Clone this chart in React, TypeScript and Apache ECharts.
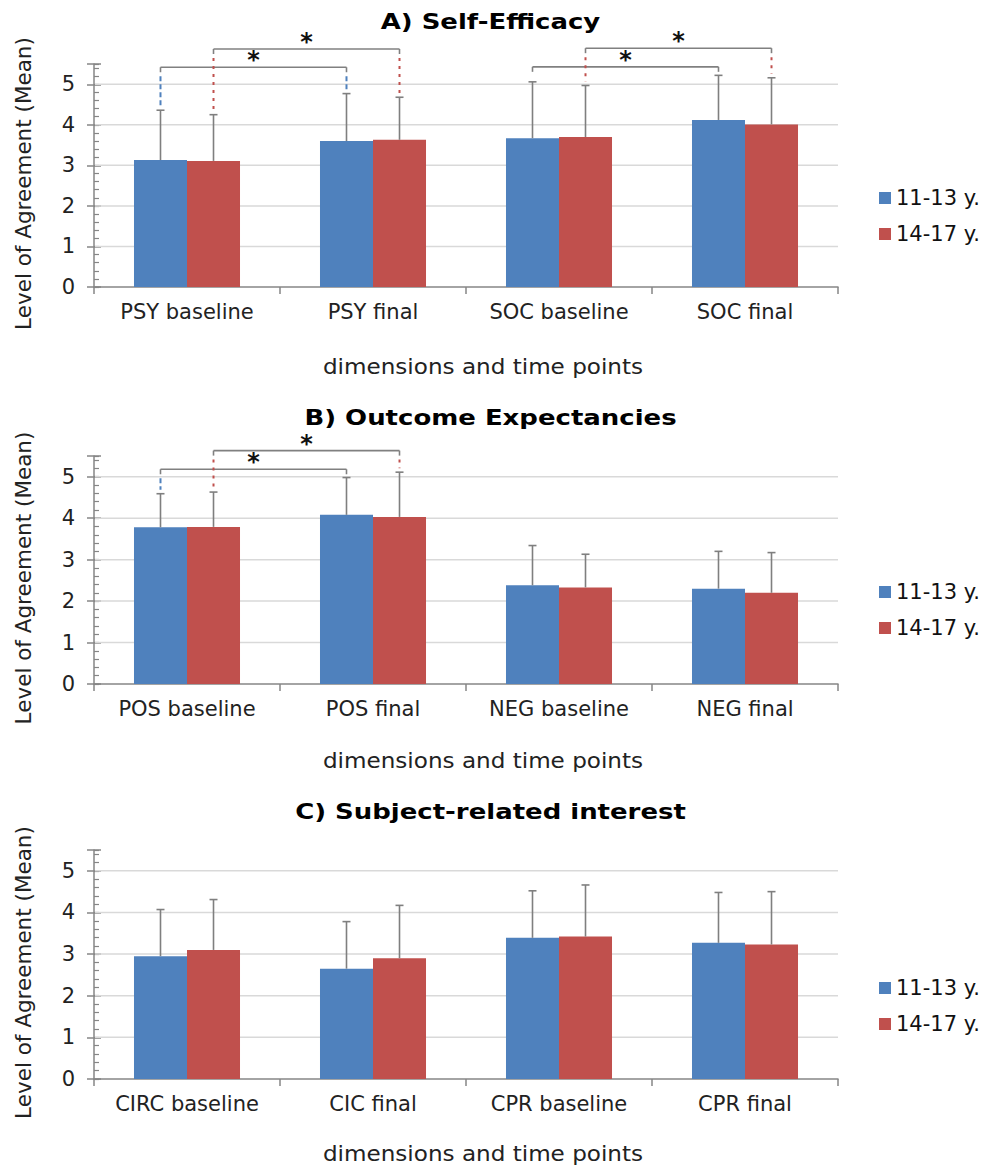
import React, { useEffect, useRef } from 'react';
import * as echarts from 'echarts';

// ---------- DATA ----------
const seriesNames = ['11-13 y.', '14-17 y.'];
const seriesColors = ['#4f81bd', '#c0504d'];

const categoriesA = ['PSY baseline', 'PSY final', 'SOC baseline', 'SOC final'];
const categoriesB = ['POS baseline', 'POS final', 'NEG baseline', 'NEG final'];
const categoriesC = ['CIRC baseline', 'CIC final', 'CPR baseline', 'CPR final'];

const meanA_young = [3.13, 3.6, 3.67, 4.12];
const meanA_old = [3.11, 3.63, 3.7, 4.01];
const sdA_young = [1.23, 1.17, 1.39, 1.1];
const sdA_old = [1.14, 1.05, 1.27, 1.15];

const meanB_young = [3.78, 4.08, 2.38, 2.3];
const meanB_old = [3.79, 4.03, 2.33, 2.2];
const sdB_young = [0.81, 0.9, 0.96, 0.9];
const sdB_old = [0.84, 1.08, 0.8, 0.97];

const meanC_young = [2.95, 2.65, 3.39, 3.27];
const meanC_old = [3.1, 2.9, 3.42, 3.23];
const sdC_young = [1.12, 1.13, 1.13, 1.21];
const sdC_old = [1.21, 1.27, 1.24, 1.27];

// significance brackets: [fromCategory, toCategory, seriesIndex, bracketLevel]
const bracketsA = [
  [0, 1, 0, 5.42],
  [0, 1, 1, 5.87],
  [2, 3, 0, 5.43],
  [2, 3, 1, 5.89],
];
const bracketsB = [
  [0, 1, 0, 5.18],
  [0, 1, 1, 5.63],
];
const bracketsC: number[][] = [];

const yTicks = [0, 1, 2, 3, 4, 5];
const yMax = 5.5;

const titles = ['A) Self-Efficacy', 'B) Outcome Expectancies', 'C) Subject-related interest'];
const xAxisName = 'dimensions and time points';
const yAxisName = 'Level of Agreement (Mean)';

// ---------- LAYOUT ----------
const FONT = "'DejaVu Sans', Verdana, sans-serif";
const GRID_LEFT = 94;
const GRID_RIGHT = 143;
const gridTops = [64, 456, 850];
const gridHeights = [223, 228, 229];
const titleYs = [22, 418, 812];
const xNameGaps = [80, 77, 75];
const legendTops = [181, 575, 971];
const CAT_GAP = 0.43;

const panels = [
  { cats: categoriesA, means: [meanA_young, meanA_old], sds: [sdA_young, sdA_old], brackets: bracketsA },
  { cats: categoriesB, means: [meanB_young, meanB_old], sds: [sdB_young, sdB_old], brackets: bracketsB },
  { cats: categoriesC, means: [meanC_young, meanC_old], sds: [sdC_young, sdC_old], brackets: bracketsC },
];

function barCenter(api: any, cat: number, s: number) {
  const catW = api.size([1, 0])[0];
  const bw = (catW * (1 - CAT_GAP)) / 2;
  return api.coord([cat, 0])[0] + (s === 0 ? -1 : 1) * (bw / 2);
}

function buildOption() {
  const grid: any[] = [];
  const xAxis: any[] = [];
  const yAxis: any[] = [];
  const series: any[] = [];
  const graphic: any[] = [];

  panels.forEach((p, g) => {
    grid.push({ left: GRID_LEFT, right: GRID_RIGHT, top: gridTops[g], height: gridHeights[g], containLabel: false });
    xAxis.push({
      type: 'category',
      gridIndex: g,
      data: p.cats,
      axisLine: { lineStyle: { color: '#868686', width: 1.5 } },
      axisTick: { show: true, interval: 0, length: 7, lineStyle: { color: '#868686', width: 1.5 } },
      axisLabel: { interval: 0, hideOverlap: false, fontFamily: FONT, fontSize: 21, color: '#222', margin: 14 },
      splitLine: { show: false },
    });
    const yBase = { type: 'value', gridIndex: g, min: 0, max: yMax, position: 'left', offset: 0 };
    // main axis with labels and outside ticks
    yAxis.push({
      ...yBase,
      interval: 1,
      axisLine: { show: true, lineStyle: { color: '#868686', width: 1.5 } },
      axisTick: { show: true, length: 7, lineStyle: { color: '#868686', width: 1.5 } },
      axisLabel: {
        fontFamily: FONT,
        fontSize: 21,
        color: '#222',
        margin: 19,
        formatter: (v: number) => (yTicks.indexOf(v) >= 0 ? String(v) : ''),
      },
      splitLine: { show: false },
    });
    // minor ticks inside
    yAxis.push({
      ...yBase,
      interval: 0.2,
      axisLine: { show: false },
      axisTick: { show: true, inside: true, length: 5, lineStyle: { color: '#868686', width: 1.2 } },
      axisLabel: { show: false },
      splitLine: { show: false },
    });
    // major ticks inside
    yAxis.push({
      ...yBase,
      interval: 1,
      axisLine: { show: false },
      axisTick: { show: true, inside: true, length: 7, lineStyle: { color: '#868686', width: 1.5 } },
      axisLabel: { show: false },
      splitLine: { show: false },
    });
    const yi = g * 3;

    // gridlines
    series.push({
      type: 'custom',
      xAxisIndex: g,
      yAxisIndex: yi,
      z: 1,
      silent: true,
      clip: false,
      data: yTicks.slice(1).map((v) => [0, v]),
      renderItem: (params: any, api: any) => {
        const cs = params.coordSys;
        const y = api.coord([0, api.value(1)])[1];
        return {
          type: 'line',
          shape: { x1: cs.x + 1, y1: y, x2: cs.x + cs.width, y2: y },
          style: { stroke: '#d9d9d9', lineWidth: 1.5 },
        };
      },
    });

    // bars
    [0, 1].forEach((s) => {
      series.push({
        type: 'bar',
        name: seriesNames[s],
        xAxisIndex: g,
        yAxisIndex: yi,
        data: p.means[s],
        itemStyle: { color: seriesColors[s] },
        barGap: '0%',
        barCategoryGap: CAT_GAP * 100 + '%',
        z: 2,
      });
    });

    // error bars
    const errData: number[][] = [];
    [0, 1].forEach((s) => {
      p.means[s].forEach((m, i) => errData.push([i, m + p.sds[s][i], m, s]));
    });
    series.push({
      type: 'custom',
      xAxisIndex: g,
      yAxisIndex: yi,
      z: 3,
      silent: true,
      clip: false,
      data: errData,
      renderItem: (params: any, api: any) => {
        const cat = api.value(0);
        const up = api.value(1);
        const mean = api.value(2);
        const s = api.value(3);
        const x = barCenter(api, cat, s);
        const y0 = api.coord([cat, mean])[1];
        const y1 = api.coord([cat, up])[1];
        const st = { stroke: '#7f7f7f', lineWidth: 1.6 };
        return {
          type: 'group',
          children: [
            { type: 'line', shape: { x1: x, y1: y0, x2: x, y2: y1 }, style: st },
            { type: 'line', shape: { x1: x - 4, y1: y1, x2: x + 4, y2: y1 }, style: st },
          ],
        };
      },
    });

    // significance brackets
    if (p.brackets.length) {
      const bData = p.brackets.map((b) => {
        const [from, to, s, level] = b;
        return [from, level, to, s, p.means[s][from] + p.sds[s][from], p.means[s][to] + p.sds[s][to]];
      });
      series.push({
        type: 'custom',
        xAxisIndex: g,
        yAxisIndex: yi,
        z: 4,
        silent: true,
        clip: false,
        data: bData,
        renderItem: (params: any, api: any) => {
          const from = api.value(0);
          const level = api.value(1);
          const to = api.value(2);
          const s = api.value(3);
          const eFrom = api.value(4);
          const eTo = api.value(5);
          const x1 = barCenter(api, from, s);
          const x2 = barCenter(api, to, s);
          const yl = api.coord([from, level])[1];
          const gst = { stroke: '#808080', lineWidth: 1.6 };
          const children: any[] = [
            { type: 'line', shape: { x1: x1, y1: yl, x2: x2, y2: yl }, style: gst },
            { type: 'line', shape: { x1: x1, y1: yl, x2: x1, y2: yl + 5 }, style: gst },
            { type: 'line', shape: { x1: x2, y1: yl, x2: x2, y2: yl + 5 }, style: gst },
          ];
          [
            [x1, from, eFrom],
            [x2, to, eTo],
          ].forEach(([x, c, e]) => {
            const ye = api.coord([c, e])[1];
            const ys = yl + 9;
            const yend = ye - 4;
            if (yend - ys > 3) {
              children.push({
                type: 'line',
                shape: { x1: x, y1: ys, x2: x, y2: yend },
                style: {
                  stroke: seriesColors[s],
                  lineWidth: 2,
                  lineDash: s === 0 ? [5, 3] : [3, 5],
                },
              });
            }
          });
          children.push({
            type: 'text',
            x: (x1 + x2) / 2,
            y: yl - 7,
            style: {
              text: '*',
              fontFamily: FONT,
              fontSize: 24,
              fontWeight: 'bold',
              fill: '#111',
              align: 'center',
              verticalAlign: 'middle',
            },
          });
          return { type: 'group', children };
        },
      });
    }

    // titles
    graphic.push({
      type: 'text',
      x: 490.5,
      y: titleYs[g],
      scaleX: 1.18,
      style: {
        text: titles[g],
        fontFamily: FONT,
        fontSize: 22,
        fontWeight: 'bold',
        fill: '#000',
        align: 'center',
        verticalAlign: 'middle',
      },
    });
    // axis names
    const zeroY = gridTops[g] + gridHeights[g];
    graphic.push({
      type: 'text',
      x: 483,
      y: zeroY + xNameGaps[g],
      scaleX: 1.1,
      style: {
        text: xAxisName,
        fontFamily: FONT,
        fontSize: 21,
        fill: '#222',
        align: 'center',
        verticalAlign: 'middle',
      },
    });
    graphic.push({
      type: 'text',
      x: 23,
      y: gridTops[g] + gridHeights[g] / 2 + 8,
      rotation: Math.PI / 2,
      style: {
        text: yAxisName,
        fontFamily: FONT,
        fontSize: 21.5,
        fill: '#222',
        align: 'center',
        verticalAlign: 'middle',
      },
    });
  });

  return {
    animation: false,
    backgroundColor: '#ffffff',
    legend: panels.map((_, i) => ({
      orient: 'vertical',
      left: 874,
      top: legendTops[i],
      icon: 'rect',
      itemWidth: 12,
      itemHeight: 12,
      itemGap: 12,
      selectedMode: false,
      data: seriesNames,
      textStyle: { fontFamily: FONT, fontSize: 21, color: '#111', lineHeight: 24 },
    })),
    grid,
    xAxis,
    yAxis,
    series,
    graphic,
  };
}

export default function App() {
  const ref = useRef<HTMLDivElement>(null);
  useEffect(() => {
    document.body.style.margin = '0';
    if (!ref.current) return;
    const chart = echarts.init(ref.current, undefined, { renderer: 'svg' });
    chart.setOption(buildOption() as any);
    return () => {
      chart.dispose();
    };
  }, []);
  return <div ref={ref} style={{ width: 981, height: 1167 }} />;
}
